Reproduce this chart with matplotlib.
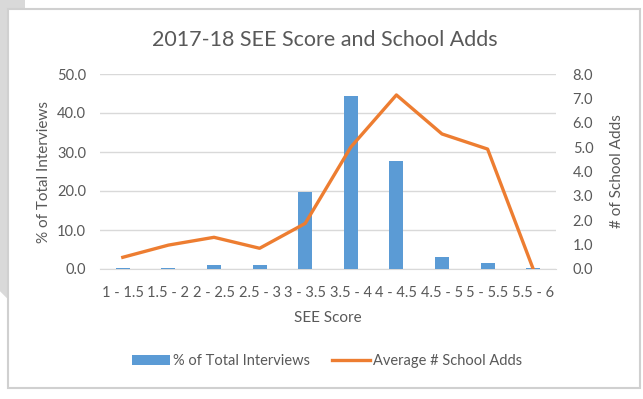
import numpy as np
import matplotlib.pyplot as plt
from matplotlib.patches import Rectangle, Polygon

# data
categories = ["1 - 1.5", "1.5 - 2", "2 - 2.5", "2.5 - 3", "3 - 3.5",
              "3.5 - 4", "4 - 4.5", "4.5 - 5", "5 - 5.5", "5.5 - 6"]
pct_interviews = [0.3, 0.3, 1.0, 1.0, 19.7, 44.4, 27.8, 3.2, 1.6, 0.3]
avg_school_adds = [0.48, 0.98, 1.3, 0.85, 1.87, 5.0, 7.14, 5.54, 4.92, 0.0]

left_ticks = np.arange(0, 51, 10)
right_ticks = np.arange(0, 8.1, 1)

plt.rcParams['font.family'] = ['Lato', 'DejaVu Sans']
txt = '#595959'
blue = '#5B9BD5'
orange = '#ED7D31'

fig = plt.figure(figsize=(6.43, 3.99), dpi=100)
fig.patch.set_facecolor('white')

# screenshot frame around the chart
fig.patches.append(Polygon([[0, 1], [0, 0.27], [8 / 643, 0.25], [8 / 643, 1 - 9 / 399],
                            [25 / 643, 1 - 9 / 399], [25 / 643, 1]],
                           closed=True, transform=fig.transFigure,
                           facecolor='#d9d9d9', edgecolor='none', zorder=-20))
fig.patches.append(Rectangle((8 / 643, 11 / 399), 632 / 643, 379 / 399,
                             transform=fig.transFigure, facecolor='white',
                             edgecolor='#d0d0d0', linewidth=1.5, zorder=-10))

ax = fig.add_axes([100 / 643, 130 / 399, 456 / 643, 195 / 399])
ax.set_facecolor('none')
x = np.arange(len(categories))

ax.bar(x, pct_interviews, width=0.31, color=blue, label='% of Total Interviews', zorder=3)
ax.set_ylim(0, 50)
ax.set_xlim(-0.5, len(categories) - 0.5)
ax.set_yticks(left_ticks)
ax.set_yticklabels([f"{v:.1f}" for v in left_ticks])
ax.set_xticks(x)
ax.set_xticklabels(categories)
ax.grid(axis='y', color='#d9d9d9', linewidth=1, zorder=0)
ax.set_axisbelow(True)
for s in ax.spines.values():
    s.set_visible(False)
ax.spines['bottom'].set_visible(True)
ax.spines['bottom'].set_color('#d9d9d9')
ax.tick_params(length=0, colors=txt, labelsize=10.5)
ax.tick_params(axis='x', pad=12)
ax.tick_params(axis='y', pad=10)
ax.set_ylabel('% of Total Interviews', color=txt, fontsize=11, labelpad=4)
ax.set_xlabel('SEE Score', color=txt, fontsize=11, labelpad=8)

ax2 = ax.twinx()
ax2.plot(x, avg_school_adds, color=orange, linewidth=2.4, label='Average # School Adds', zorder=4)
ax2.set_ylim(0, 8)
ax2.set_yticks(right_ticks)
ax2.set_yticklabels([f"{v:.1f}" for v in right_ticks])
for s in ax2.spines.values():
    s.set_visible(False)
ax2.tick_params(length=0, colors=txt, labelsize=10.5, pad=12)
ax2.set_ylabel('# of School Adds', color=txt, fontsize=11, labelpad=12)

fig.text(0.505, 1 - 40 / 399, '2017-18 SEE Score and School Adds',
         ha='center', va='center', color=txt, fontsize=15.5)

h1, l1 = ax.get_legend_handles_labels()
h2, l2 = ax2.get_legend_handles_labels()
fig.legend(h1 + h2, l1 + l2, loc='center', bbox_to_anchor=(0.509, 1 - 361 / 399),
           ncol=2, frameon=False, fontsize=10.5, labelcolor=txt,
           handlelength=2.6, handletextpad=0.2, columnspacing=1.5)

plt.savefig('out.png', dpi=100)
